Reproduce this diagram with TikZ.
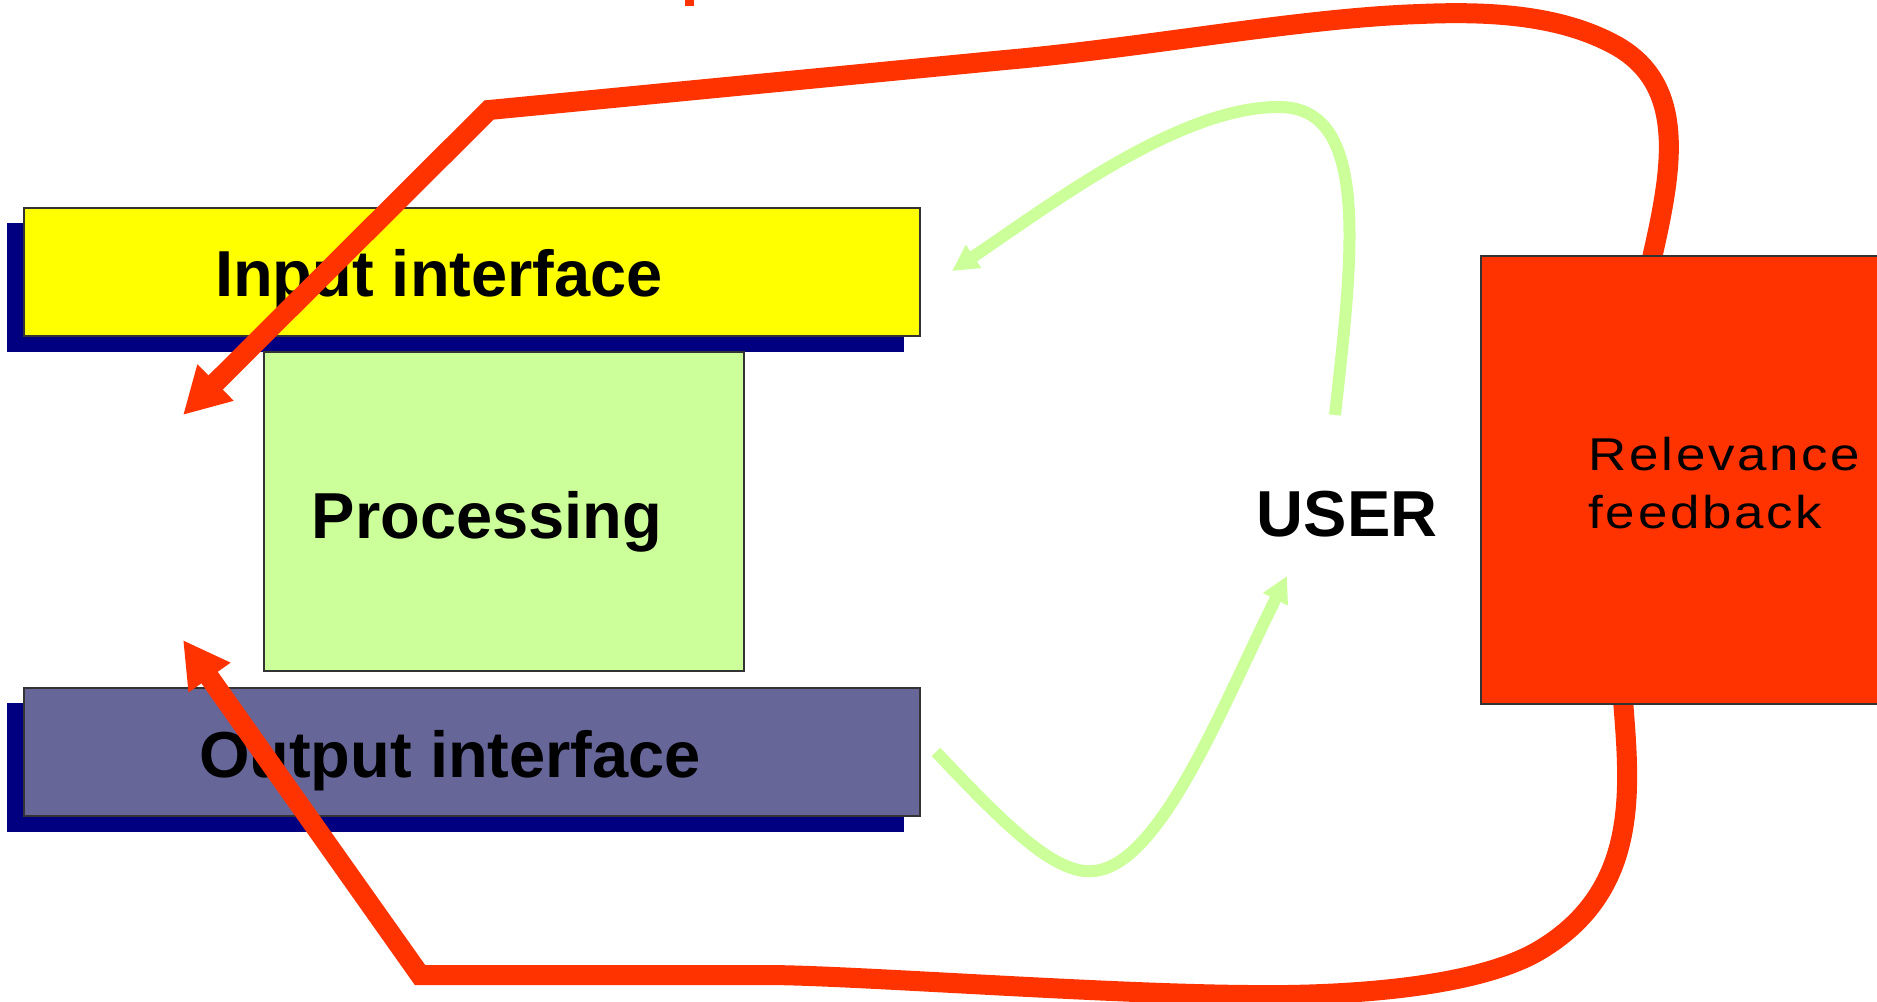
\documentclass[tikz,border=0pt]{standalone}
\usepackage{fontspec}
\setmainfont{Liberation Sans}
\newfontfamily\widefont[FakeStretch=1.15,LetterSpace=6]{Liberation Sans}
\usetikzlibrary{arrows.meta}
\definecolor{inyellow}{HTML}{FFFF00}
\definecolor{shadownavy}{HTML}{000080}
\definecolor{procgreen}{HTML}{CCFF99}
\definecolor{outpurple}{HTML}{666699}
\definecolor{fbred}{HTML}{FF3300}
\definecolor{edgegray}{HTML}{333333}
\tikzset{
  shadowbox/.style={fill=shadownavy, draw=none, anchor=north west, inner sep=0pt,
    minimum width=448.5pt, minimum height=64.5pt},
  ifacebox/.style={draw=edgegray, line width=0.8pt, anchor=north west, inner sep=0pt,
    minimum width=448pt, minimum height=64pt},
  boldlabel/.style={font=\bfseries\fontsize{32.5}{38}\selectfont, anchor=base, inner sep=0pt},
  rellabel/.style={font=\widefont\fontsize{23}{28}\selectfont, anchor=base west, inner sep=0pt},
  redarrow/.style={draw=fbred, line width=10pt, -{Triangle[length=23pt,width=24pt]}},
  greenarrow/.style={draw=procgreen, line width=6pt, -{Triangle[length=13pt,width=13pt]}}
}
\begin{document}
\begin{tikzpicture}[x=0.5pt,y=-0.5pt]
\useasboundingbox (0,0) rectangle (1877,1001);
\clip (0,0) rectangle (1877,1001);
\fill[white] (0,0) rectangle (1877,1001);

% small red mark at top edge
\fill[fbred] (685,0) rectangle (694,6);

% shadows
\node[shadowbox] (inshadow) at (7,223) {};
\node[shadowbox] (outshadow) at (7,703) {};

% boxes
\node[ifacebox, fill=inyellow] (input) at (23,207) {};
\node[draw=edgegray, line width=0.8pt, fill=procgreen, anchor=north west, inner sep=0pt,
  minimum width=240pt, minimum height=159.5pt] (proc) at (263,351) {};
\node[ifacebox, fill=outpurple] (output) at (23,687) {};

% labels
\node[boldlabel] (inputtext) at (439,296) {Input interface};
\node[boldlabel] (proctext) at (487,538) {Processing};
\node[boldlabel] (outputtext) at (450,777) {Output interface};
\node[boldlabel] (user) at (1347,536) {USER};

% connector end points
\coordinate (rtopstart) at (1652,258);
\coordinate (rbotstart) at (1623,700);
\coordinate (intip) at (183,415);
\coordinate (outtip) at (183,640);
\coordinate (topcorner) at (489,110);
\coordinate (botcorner) at (420,975);
\coordinate (g1start) at (1335,415);
\coordinate (g1tip) at (952,271);
\coordinate (g2start) at (936,752);
\coordinate (g2tip) at (1287,576);

% red feedback loops
\draw[redarrow] (rtopstart) .. controls (1672,170) and (1688,85) .. (1615,45)
  .. controls (1560,15) and (1490,11) .. (1420,14)
  .. controls (1300,18) and (1150,47) .. (1005,60)
  -- (topcorner) -- (intip);
\draw[redarrow] (rbotstart) .. controls (1630,790) and (1640,890) .. (1540,950)
  .. controls (1470,992) and (1320,996) .. (1250,995)
  .. controls (1100,994) and (850,975) .. (766,975)
  -- (botcorner) -- (outtip);

% green user loops
\draw[greenarrow] (g1start) .. controls (1352,260) and (1372,108) .. (1280,107)
  .. controls (1180,106) and (1050,205) .. (g1tip);
\draw[greenarrow] (g2start) .. controls (1010,830) and (1060,880) .. (1100,870)
  .. controls (1165,855) and (1225,700) .. (g2tip);

% relevance feedback box
\node[draw=edgegray, line width=0.8pt, fill=fbred, anchor=north west, inner sep=0pt,
  minimum width=215pt, minimum height=224pt] (relbox) at (1480,255) {};
\node[rellabel] (rel1) at (1588,470) {Relevance};
\node[rellabel] (rel2) at (1588,528) {feedback};
\end{tikzpicture}
\end{document}
